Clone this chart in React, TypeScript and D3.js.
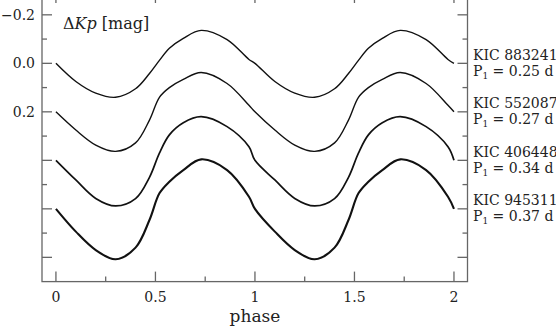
import { useEffect, useRef } from "react";
import * as d3 from "d3";

// phase-folded light curves (one cycle), delta Kp in mag
const phases = [0, 0.1, 0.2, 0.3, 0.4, 0.47, 0.52, 0.57, 0.64, 0.73, 0.86, 0.97];
const kic8832417 = [0, 0.075, 0.123, 0.14, 0.105, 0.042, -0.012, -0.062, -0.103, -0.136, -0.098, -0.016];
const kic5520878 = [0, 0.075, 0.137, 0.163, 0.128, 0.034, -0.06, -0.1, -0.134, -0.162, -0.117, -0.027];
const kic4064484 = [0, 0.081, 0.157, 0.188, 0.158, 0.07, -0.03, -0.105, -0.155, -0.18, -0.139, -0.056];
const kic9453114 = [0, 0.094, 0.17, 0.208, 0.16, 0.046, -0.064, -0.112, -0.16, -0.204, -0.16, -0.05];

const stars = ["KIC 8832417", "KIC 5520878", "KIC 4064484", "KIC 9453114"];
const periods = ["0.25", "0.27", "0.34", "0.37"];
const offsets = [0, 0.2, 0.4, 0.6];
const series = [kic8832417, kic5520878, kic4064484, kic9453114];
const widths = [1.4, 1.4, 1.7, 2.1];

const xMajor = [0, 0.5, 1, 1.5, 2];
const xMinor = [0.25, 0.75, 1.25, 1.75];
const yMajor = [-0.2, 0, 0.2, 0.4, 0.6, 0.8];
const yMinor = [-0.1, 0.1, 0.3, 0.5, 0.7];
const yLabels = [-0.2, 0, 0.2];

const W = 556;
const H = 328;
const FONT = "'DejaVu Serif', serif";
const AXIS = "#666";

const App = () => {
  const svgRef = useRef(null);

  useEffect(() => {
    const svg = d3.select(svgRef.current);
    svg.selectAll("*").remove();

    const x = d3.scaleLinear().domain([-0.07, 2.068]).range([42, 467.5]);
    const y = d3.scaleLinear().domain([-0.29, 0.9]).range([-7, 281.6]);
    const [x0, x1] = x.range();
    const [y0, y1] = y.range();

    // frame
    svg
      .append("rect")
      .attr("x", x0)
      .attr("y", y0)
      .attr("width", x1 - x0)
      .attr("height", y1 - y0)
      .attr("fill", "none")
      .attr("stroke", AXIS)
      .attr("stroke-width", 1.3);

    // ticks
    const ticks = svg.append("g").attr("stroke", AXIS).attr("stroke-width", 1.3);
    const xTick = (vals, len) => {
      vals.forEach((v) => {
        ticks.append("line").attr("x1", x(v)).attr("x2", x(v)).attr("y1", y1).attr("y2", y1 - len);
        ticks.append("line").attr("x1", x(v)).attr("x2", x(v)).attr("y1", y0).attr("y2", y0 + len);
      });
    };
    const yTick = (vals, len) => {
      vals.forEach((v) => {
        ticks.append("line").attr("x1", x0).attr("x2", x0 + len).attr("y1", y(v)).attr("y2", y(v));
        ticks.append("line").attr("x1", x1).attr("x2", x1 - len).attr("y1", y(v)).attr("y2", y(v));
      });
    };
    xTick(xMajor, 10);
    xTick(xMinor, 5);
    yTick(yMajor, 10);
    yTick(yMinor, 5);

    // tick labels
    svg
      .selectAll(".xl")
      .data(xMajor)
      .enter()
      .append("text")
      .attr("x", (d) => x(d))
      .attr("y", 302)
      .attr("text-anchor", "middle")
      .attr("font-family", FONT)
      .attr("font-size", 14)
      .attr("fill", "#222")
      .text((d) => String(d));

    svg
      .selectAll(".yl")
      .data(yLabels)
      .enter()
      .append("text")
      .attr("x", 35)
      .attr("y", (d) => y(d) + 5)
      .attr("text-anchor", "end")
      .attr("font-family", FONT)
      .attr("font-size", 14)
      .attr("fill", "#222")
      .text((d) => d3.format(".1f")(d).replace("-", "\u2212"));

    // axis titles
    svg
      .append("text")
      .attr("x", x(1))
      .attr("y", 322)
      .attr("text-anchor", "middle")
      .attr("font-family", FONT)
      .attr("font-size", 17)
      .attr("fill", "#222")
      .text("phase");

    const yt = svg
      .append("text")
      .attr("x", 63)
      .attr("y", 29)
      .attr("font-family", FONT)
      .attr("font-size", 16)
      .attr("fill", "#222");
    yt.append("tspan").text("\u0394");
    yt.append("tspan").attr("font-style", "italic").text("Kp");
    yt.append("tspan").text(" [mag]");

    // light curves, two cycles
    const line = d3
      .line()
      .x((d) => x(d[0]))
      .y((d) => y(d[1]))
      .curve(d3.curveCatmullRom.alpha(0.5));

    series.forEach((vals, i) => {
      const pts = [];
      [0, 1].forEach((c) => phases.forEach((p, j) => pts.push([p + c, vals[j] + offsets[i]])));
      pts.push([2, vals[0] + offsets[i]]);
      svg
        .append("path")
        .attr("d", line(pts))
        .attr("fill", "none")
        .attr("stroke", "#111")
        .attr("stroke-width", widths[i])
        .attr("stroke-linejoin", "round");

      const ly = y(offsets[i]);
      svg
        .append("text")
        .attr("x", 473)
        .attr("y", ly - 3.5)
        .attr("font-family", FONT)
        .attr("font-size", 14)
        .attr("fill", "#222")
        .text(stars[i]);
      const pt = svg
        .append("text")
        .attr("x", 473)
        .attr("y", ly + 12.5)
        .attr("font-family", FONT)
        .attr("font-size", 14)
        .attr("fill", "#222");
      pt.append("tspan").text("P");
      pt.append("tspan").attr("font-size", 9).attr("dy", 3).text("1");
      pt.append("tspan").attr("dy", -3).text(" = " + periods[i] + " d");
    });
  }, []);

  return (
    <svg
      ref={svgRef}
      width={W}
      height={H}
      style={{ position: "absolute", left: 0, top: 0, background: "#fff" }}
    />
  );
};

export default App;
